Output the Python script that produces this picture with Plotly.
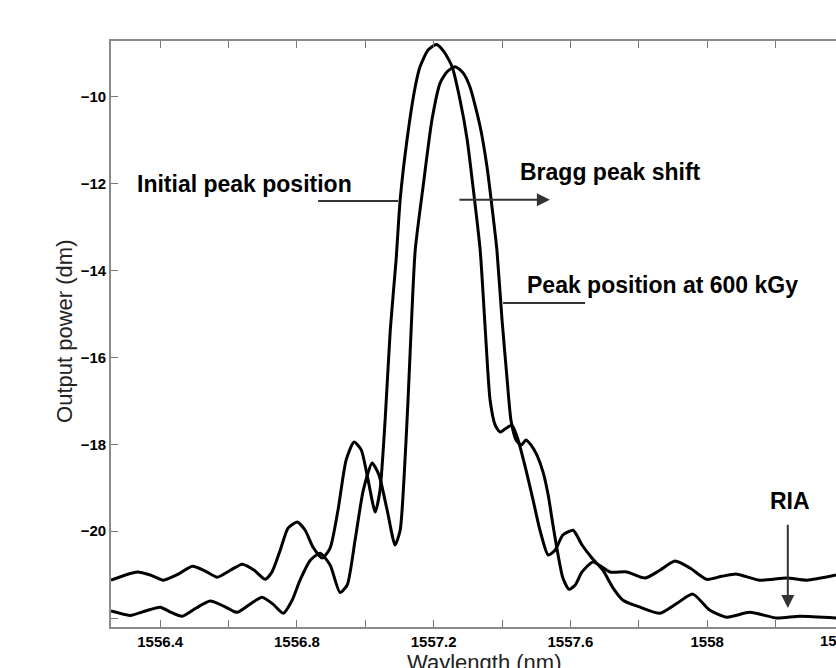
import plotly.graph_objects as go

# ---------------- data ----------------
wl_a = [1556.256, 1556.298, 1556.333, 1556.371, 1556.409, 1556.453, 1556.494, 1556.532,
        1556.567, 1556.605, 1556.640, 1556.675, 1556.707, 1556.727, 1556.751, 1556.774,
        1556.801, 1556.824, 1556.847, 1556.874, 1556.897, 1556.920, 1556.944, 1556.967,
        1556.988, 1557.008, 1557.029, 1557.043, 1557.058, 1557.073, 1557.090, 1557.102,
        1557.122, 1557.146, 1557.160, 1557.184, 1557.208, 1557.230, 1557.254, 1557.277,
        1557.298, 1557.315, 1557.336, 1557.351, 1557.365, 1557.380, 1557.394, 1557.412,
        1557.429, 1557.447, 1557.470, 1557.491, 1557.511, 1557.535, 1557.555, 1557.578,
        1557.608, 1557.634, 1557.663, 1557.695, 1557.725, 1557.754, 1557.804, 1557.862,
        1557.912, 1557.958, 1558.008, 1558.058, 1558.125, 1558.204, 1558.271, 1558.377]
pw_a = [-21.13, -21.01, -20.94, -21.01, -21.13, -20.99, -20.81, -20.92,
        -21.06, -20.90, -20.76, -20.90, -21.11, -20.94, -20.44, -19.93,
        -19.79, -19.98, -20.37, -20.62, -20.39, -19.52, -18.36, -17.95,
        -18.13, -18.82, -19.56, -19.06, -17.44, -15.37, -13.76, -12.37,
        -10.99, -9.77, -9.31, -8.92, -8.80, -8.96, -9.31, -10.07,
        -10.99, -12.07, -13.53, -15.37, -16.98, -17.56, -17.72, -17.63,
        -17.56, -17.90, -18.59, -19.29, -19.98, -20.55, -20.44, -20.09,
        -19.98, -20.32, -20.62, -20.90, -21.31, -21.59, -21.75, -21.89,
        -21.66, -21.45, -21.82, -21.98, -21.87, -22.00, -21.96, -22.00]

wl_b = [1556.256, 1556.312, 1556.356, 1556.400, 1556.432, 1556.464, 1556.505, 1556.546,
        1556.587, 1556.625, 1556.663, 1556.698, 1556.730, 1556.760, 1556.786, 1556.809,
        1556.839, 1556.868, 1556.897, 1556.926, 1556.947, 1556.970, 1556.994, 1557.020,
        1557.040, 1557.064, 1557.087, 1557.102, 1557.113, 1557.125, 1557.134, 1557.146,
        1557.169, 1557.195, 1557.219, 1557.240, 1557.263, 1557.286, 1557.306, 1557.336,
        1557.356, 1557.374, 1557.385, 1557.400, 1557.415, 1557.426, 1557.441, 1557.456,
        1557.470, 1557.485, 1557.502, 1557.520, 1557.535, 1557.549, 1557.564, 1557.578,
        1557.596, 1557.614, 1557.634, 1557.666, 1557.716, 1557.765, 1557.818, 1557.862,
        1557.906, 1557.950, 1557.999, 1558.043, 1558.087, 1558.154, 1558.233, 1558.292,
        1558.377]
pw_b = [-21.84, -21.94, -21.84, -21.75, -21.87, -21.96, -21.77, -21.61,
        -21.73, -21.87, -21.68, -21.52, -21.68, -21.89, -21.59, -21.13,
        -20.67, -20.51, -20.78, -21.41, -21.24, -20.21, -19.06, -18.43,
        -18.71, -19.52, -20.32, -19.98, -18.82, -16.98, -15.37, -13.53,
        -12.07, -10.53, -9.68, -9.42, -9.31, -9.45, -9.77, -10.69,
        -11.61, -12.76, -13.53, -15.14, -16.52, -17.44, -17.90, -18.02,
        -17.90, -18.02, -18.25, -18.64, -19.17, -19.86, -20.55, -21.08,
        -21.34, -21.24, -20.94, -20.71, -20.94, -20.94, -21.08, -20.90,
        -20.69, -20.85, -21.11, -21.04, -20.99, -21.13, -21.08, -21.13,
        -21.01]

x_tickvals = [1556.4, 1556.6, 1556.8, 1557.0, 1557.2, 1557.4, 1557.6, 1557.8, 1558.0, 1558.2]
x_ticktext = ["1556.4", "", "1556.8", "", "1557.2", "", "1557.6", "", "1558", ""]
y_tickvals = [-22, -20, -18, -16, -14, -12, -10]
y_ticktext = ["", "\u221220", "\u221218", "\u221216", "\u221214", "\u221212", "\u221210"]

x_range = [1556.256, 1558.377]
y_range = [-22.207, -8.717]

# ---------------- figure ----------------
fig = go.Figure()
for wl, pw, name in [(wl_a, pw_a, "Initial"), (wl_b, pw_b, "600 kGy")]:
    fig.add_trace(go.Scatter(x=wl, y=pw, mode="lines", name=name,
                             line=dict(color="black", width=3, shape="spline", smoothing=0.6),
                             showlegend=False, hoverinfo="skip"))

bold = dict(family="Liberation Sans, Arial, sans-serif", size=23, color="black", weight="bold")
tickfont = dict(family="Liberation Sans, Arial, sans-serif", size=15, color="black", weight="bold")
ann_color = "#333333"

# annotation lines (no arrowheads)
for x0, x1, y in [(1556.862, 1557.096, -12.40), (1557.403, 1557.643, -14.75)]:
    fig.add_shape(type="line", x0=x0, x1=x1, y0=y, y1=y, xref="x", yref="y",
                  line=dict(color=ann_color, width=2))

annotations = [
    dict(x=1556.327, y=-12.0, text="Initial peak position", xanchor="left"),
    dict(x=1557.447, y=-11.73, text="Bragg peak shift", xanchor="left"),
    dict(x=1557.466, y=-14.33, text="Peak position at 600 kGy", xanchor="left"),
    dict(x=1558.242, y=-19.30, text="RIA", xanchor="center"),
]
for a in annotations:
    fig.add_annotation(x=a["x"], y=a["y"], xref="x", yref="y", text=a["text"],
                       xanchor=a["xanchor"], yanchor="middle", showarrow=False, font=bold)

# arrows
fig.add_annotation(x=1557.540, y=-12.37, ax=1557.271, ay=-12.37, xref="x", yref="y",
                   axref="x", ayref="y", text="", showarrow=True, arrowhead=2,
                   arrowsize=1.3, arrowwidth=2, arrowcolor=ann_color)
fig.add_annotation(x=1558.236, y=-21.77, ax=1558.236, ay=-19.82, xref="x", yref="y",
                   axref="x", ayref="y", text="", showarrow=True, arrowhead=2,
                   arrowsize=1.3, arrowwidth=2, arrowcolor=ann_color)

# partially visible tick label at the cut-off right edge
frac_label = (1558.4 - x_range[0]) / (x_range[1] - x_range[0])
fig.add_annotation(x=frac_label, y=-0.0225, xref="paper", yref="paper", text="1558.4",
                   showarrow=False, xanchor="center", yanchor="middle", font=tickfont)

# axis titles
title_font = dict(family="Liberation Sans, Arial, sans-serif", size=22, color="#222222")
fig.add_annotation(x=-0.0645, y=0.504, xref="paper", yref="paper", text="Output power (dm)",
                   textangle=-90, showarrow=False, xanchor="center", yanchor="middle",
                   font=title_font)
fig.add_annotation(x=0.515, y=-0.06, xref="paper", yref="paper", text="Waylength (nm)",
                   showarrow=False, xanchor="center", yanchor="middle", font=title_font)

fig.update_xaxes(range=x_range, tickmode="array", tickvals=x_tickvals, ticktext=x_ticktext,
                 ticks="inside", ticklen=7, tickwidth=1.2, tickcolor="#777777",
                 showline=True, linecolor="#8a8a8a", linewidth=1.6, mirror="ticks",
                 showgrid=False, zeroline=False, tickfont=tickfont)
fig.update_yaxes(range=y_range, tickmode="array", tickvals=y_tickvals, ticktext=y_ticktext,
                 ticks="inside", ticklen=7, tickwidth=1.2, tickcolor="#777777",
                 showline=True, linecolor="#8a8a8a", linewidth=1.6, mirror=False,
                 showgrid=False, zeroline=False, tickfont=tickfont)

fig.update_layout(width=836, height=668, margin=dict(l=111, r=0, t=41, b=41),
                  plot_bgcolor="white", paper_bgcolor="white", showlegend=False)

fig.write_html("out.html")
